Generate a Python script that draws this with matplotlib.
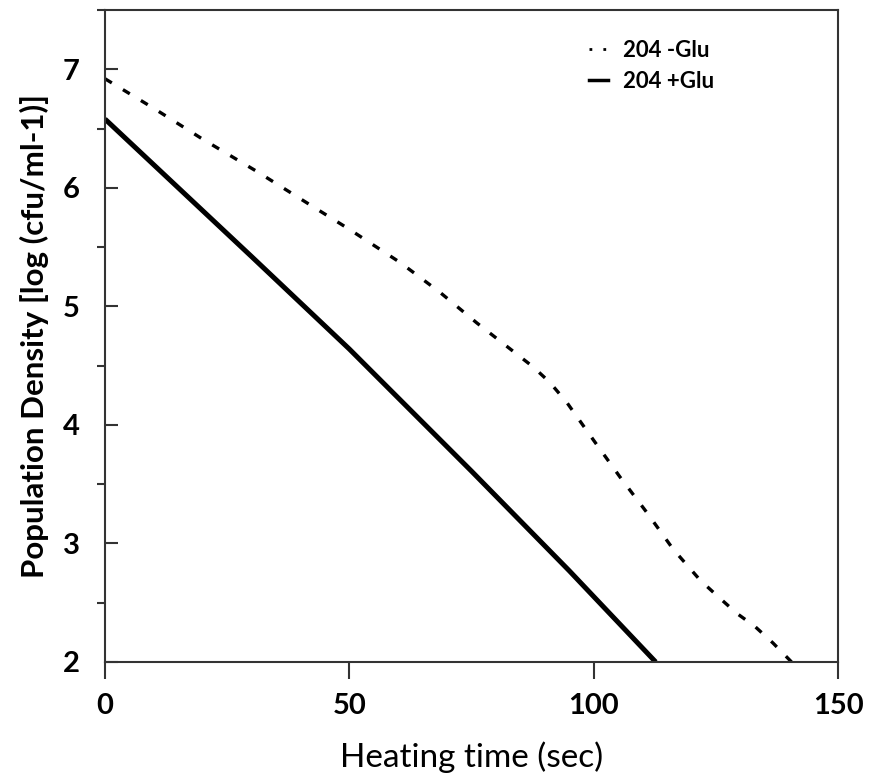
import numpy as np
import matplotlib.pyplot as plt
from matplotlib.ticker import MultipleLocator

plt.rcParams["font.family"] = ["Lato", "DejaVu Sans"]

# 204 -Glu (dashed)
t_minus = [0, 10, 20, 31, 42.6, 50, 60.4, 68.5, 76.1, 87.6, 91, 94.5, 100,
           105.4, 110.9, 116.3, 121.8, 125.5, 129.3, 133, 136.7, 140.5]
y_minus = [6.92, 6.67, 6.41, 6.14, 5.84, 5.65, 5.37, 5.12, 4.86, 4.49, 4.36,
           4.19, 3.87, 3.56, 3.26, 2.95, 2.69, 2.55, 2.41, 2.30, 2.16, 2.0]

# 204 +Glu (solid)
t_plus = [0, 30, 50, 75, 95, 112.7]
y_plus = [6.58, 5.42, 4.64, 3.61, 2.77, 2.0]

fig = plt.figure(figsize=(8.69, 7.80), dpi=100)
ax = fig.add_axes([0.1208, 0.1513, 0.8435, 0.8359])

ax.plot(t_minus, y_minus, color="black", lw=2.4, dashes=(2.4, 3.9))
ax.plot(t_plus, y_plus, color="black", lw=3.6, solid_capstyle="butt")

ax.set_xlim(0, 150)
ax.set_ylim(2, 7.5)
ax.xaxis.set_major_locator(MultipleLocator(50))
ax.yaxis.set_major_locator(MultipleLocator(1))
ax.yaxis.set_minor_locator(MultipleLocator(0.5))

for s in ax.spines.values():
    s.set_linewidth(1.5)
    s.set_color("#333333")

ax.tick_params(axis="x", which="major", direction="out", length=12.5, width=1.5,
               color="#333333", pad=10, labelsize=21)
ax.tick_params(axis="y", which="major", direction="in", length=9.5, width=1.5,
               color="#333333", pad=18, labelsize=21)
ax.tick_params(axis="y", which="minor", direction="out", length=6, width=1.5,
               color="#333333")
for lab in ax.get_xticklabels() + ax.get_yticklabels():
    lab.set_fontweight("bold")

ax.set_xlabel("Heating time (sec)", fontsize=24, labelpad=16)
ax.set_ylabel("Population Density [log (cfu/ml-1)]", fontsize=22.5,
              fontweight="bold", labelpad=10)

h1, = ax.plot([], [], color="black", lw=2, linestyle=(0, (1, 4)))
h2, = ax.plot([], [], color="black", lw=2.5)
ax.legend([h1, h2], ["204 -Glu", "204 +Glu"], loc="upper left",
          bbox_to_anchor=(0.633, 0.985), frameon=False, handlelength=0.85,
          handletextpad=0.7, labelspacing=0.45,
          prop={"size": 16, "weight": "bold"})

fig.savefig("out.png", dpi=100)
